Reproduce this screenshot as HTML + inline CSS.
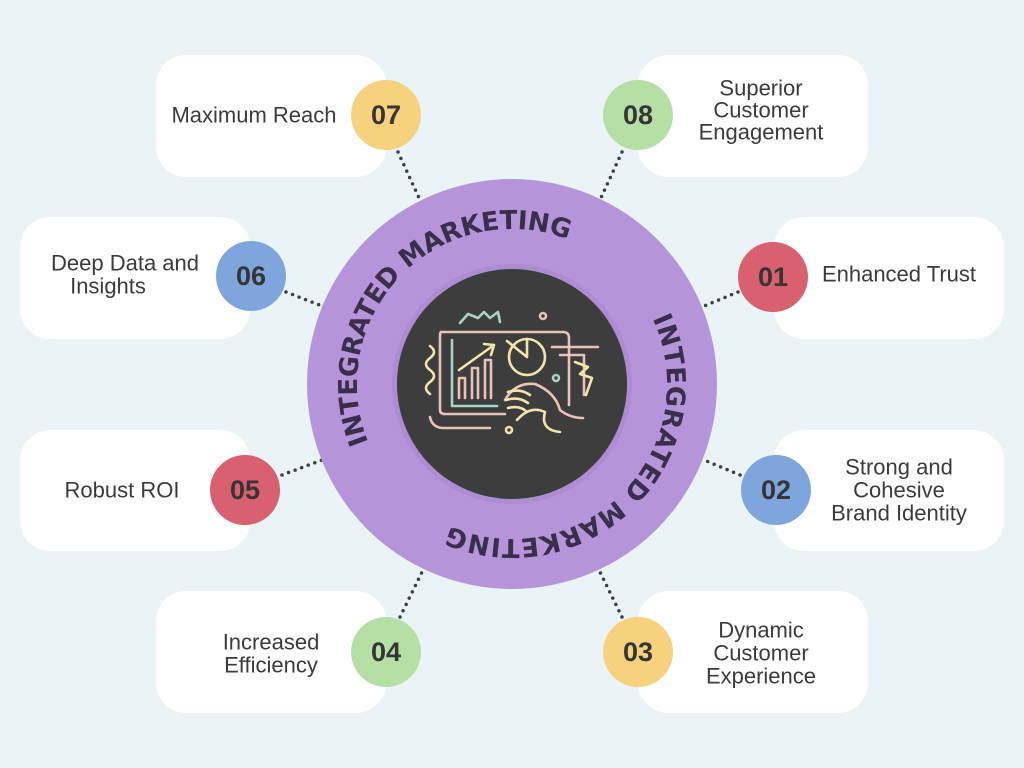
<!DOCTYPE html>
<html><head><meta charset="utf-8"><style>
html,body{margin:0;padding:0;background:#eaf3f5;}
svg{display:block}
.t{font-family:"Liberation Sans",sans-serif;font-size:22px;fill:#3b3b3b;text-anchor:middle;dominant-baseline:central}
.n{font-family:"Liberation Sans",sans-serif;font-size:27px;font-weight:bold;fill:#353535;text-anchor:middle;dominant-baseline:central}
.c{font-family:"DejaVu Sans","Liberation Sans",sans-serif;font-size:26px;font-weight:bold;fill:#3a2f4a}
.d{stroke:#3a3f4a;stroke-width:3.5;stroke-linecap:round;stroke-dasharray:0 7;fill:none}
.i{fill:none;stroke-width:2.6;stroke-linecap:round;stroke-linejoin:round}
</style></head><body>
<svg width="1024" height="768" viewBox="0 0 1024 768">
<rect width="1024" height="768" fill="#eaf3f5"/>
<g fill="#fff">
<rect x="156" y="55" width="230" height="122" rx="30"/>
<rect x="638" y="55" width="230" height="122" rx="30"/>
<rect x="20" y="217" width="230" height="122" rx="30"/>
<rect x="774" y="217" width="230" height="122" rx="30"/>
<rect x="20" y="430" width="230" height="121" rx="30"/>
<rect x="774" y="430" width="230" height="121" rx="30"/>
<rect x="156" y="591" width="230" height="122" rx="30"/>
<rect x="638" y="591" width="230" height="122" rx="30"/>
</g>
<path class="d" d="M398 152 L420 200"/>
<path class="d" d="M622 152 L600 200"/>
<path class="d" d="M286 292 L322 306"/>
<path class="d" d="M738 292 L704 306"/>
<path class="d" d="M282 475 L322 460"/>
<path class="d" d="M740 475 L704 460"/>
<path class="d" d="M400 617 L422 572"/>
<path class="d" d="M622 617 L600 572"/>
<circle cx="512" cy="384" r="205" fill="#b594da"/>
<circle cx="512" cy="384" r="120" fill="#a584c8" opacity="0.5"/>
<circle cx="512" cy="384" r="115" fill="#3d3d3d"/>
<defs>
<path id="a1" d="M368.3 442.1 A155 155 0 0 1 570.1 240.3"/>
<path id="a2" d="M652.5 318.5 A155 155 0 0 1 446.5 524.5"/>
</defs>
<text class="c"><textPath href="#a1" textLength="360" lengthAdjust="spacing">INTEGRATED MARKETING</textPath></text>
<text class="c"><textPath href="#a2" textLength="375" lengthAdjust="spacing">INTEGRATED MARKETING</textPath></text>
<g class="i">
<path d="M441 332 L563 332 Q569 332 569 338 L569 405" stroke="#e8c3b8"/>
<path d="M441 332 Q440 332 440 338 L440 410 Q440 414 445 414 L505 414" stroke="#e8c3b8"/>
<path d="M452 340 L452 406 L497 406" stroke="#a8d3c7"/>
<path d="M459 398 L459 378 L465 378 L465 398 M472 398 L472 368 L478 368 L478 398 M485 398 L485 360 L491 360 L491 398" stroke="#e8c3b8"/>
<path d="M459 370 L494 345 M484 344 L494 345 L491 355" stroke="#f3e4a9"/>
<circle cx="527" cy="357" r="18" stroke="#f3e4a9"/>
<path d="M527 339 L527 357 L507 341" stroke="#f3e4a9"/>
<path d="M460 323 L468 314 L478 318 L484 312 L490 318 L498 312 L500 322" stroke="#a8d3c7"/>
<path d="M552 347 L598 347 M560 355 L584 355 L584 395" stroke="#e8c3b8"/>
<path d="M575 362 L588 367 L580 374 L592 378 L586 395" stroke="#f3e4a9"/>
<path d="M430 346 Q438 352 430 358 Q422 364 430 370 Q438 376 430 382 Q422 388 430 394" stroke="#f3e4a9"/>
<path d="M430 417 Q432 427 442 428 L490 428" stroke="#e8c3b8"/>
<path d="M505 400 Q515 382 535 384 Q555 392 560 410 Q570 418 583 418" stroke="#e8c3b8"/>
<path d="M508 392 Q520 388 530 395 M506 400 Q518 396 528 403 M508 408 Q520 405 527 412 M517 420 Q530 405 545 412 Q540 430 560 432" stroke="#f3e4a9"/>
<circle cx="543" cy="316" r="3" stroke="#e8c3b8"/>
<circle cx="556" cy="378" r="3" stroke="#a8d3c7"/>
<circle cx="509" cy="430" r="3" stroke="#f3e4a9"/>
</g>
<circle cx="386" cy="115" r="35" fill="#f6d17e"/><text class="n" x="386" y="115">07</text>
<circle cx="638" cy="115" r="35" fill="#b6dfa6"/><text class="n" x="638" y="115">08</text>
<circle cx="251" cy="276" r="35" fill="#7ea6dc"/><text class="n" x="251" y="276">06</text>
<circle cx="773" cy="277" r="35" fill="#d9606e"/><text class="n" x="773" y="277">01</text>
<circle cx="245" cy="490" r="35" fill="#d9606e"/><text class="n" x="245" y="490">05</text>
<circle cx="776" cy="490" r="35" fill="#7ea6dc"/><text class="n" x="776" y="490">02</text>
<circle cx="386" cy="652" r="35" fill="#b6dfa6"/><text class="n" x="386" y="652">04</text>
<circle cx="638" cy="652" r="35" fill="#f6d17e"/><text class="n" x="638" y="652">03</text>
<text class="t" x="254" y="115">Maximum Reach</text>
<text class="t" x="761" y="88">Superior</text><text class="t" x="761" y="110">Customer</text><text class="t" x="761" y="132">Engagement</text>
<text class="t" x="125" y="263">Deep Data and</text><text class="t" x="108" y="286">Insights</text>
<text class="t" x="899" y="274">Enhanced Trust</text>
<text class="t" x="122" y="490">Robust ROI</text>
<text class="t" x="899" y="467">Strong and</text><text class="t" x="899" y="490">Cohesive</text><text class="t" x="899" y="513">Brand Identity</text>
<text class="t" x="271" y="642">Increased</text><text class="t" x="271" y="665">Efficiency</text>
<text class="t" x="761" y="630">Dynamic</text><text class="t" x="761" y="653">Customer</text><text class="t" x="761" y="676">Experience</text>
</svg>
</body></html>
